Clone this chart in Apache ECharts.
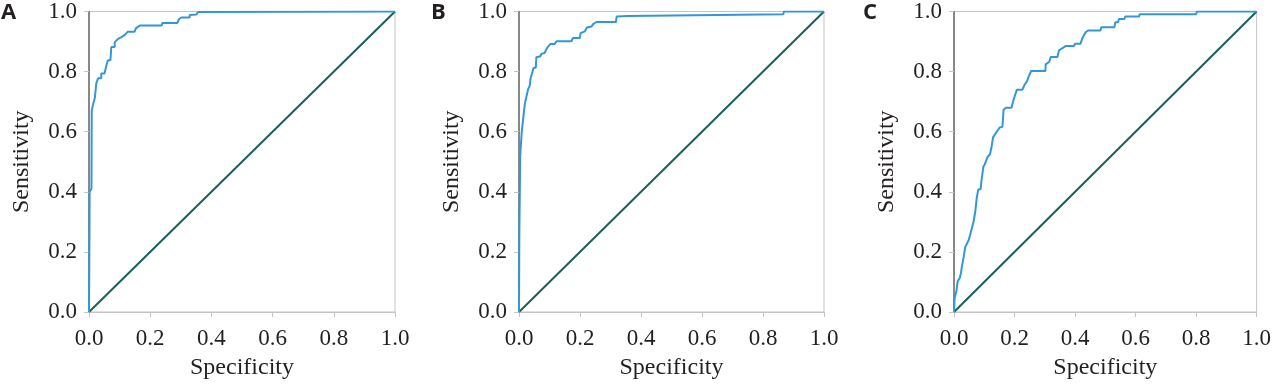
<!DOCTYPE html>
<html>
<head>
<meta charset="utf-8">
<script src="https://cdn.jsdelivr.net/npm/echarts@6/dist/echarts.min.js"></script>
<style>
html,body{margin:0;padding:0;background:#fff;}
#chart{width:1274px;height:385px;}
</style>
</head>
<body>
<div id="chart"></div>
<script>
// Panel labels
const panelLabels = ['A', 'B', 'C'];
// Tick labels (both axes)
const tickLabels = ['0.0', '0.2', '0.4', '0.6', '0.8', '1.0'];
const xName = 'Specificity';
const yName = 'Sensitivity';

// ROC curves [x, sensitivity]
const rocA = [[0,0],[0.001,0.15],[0.002,0.40],[0.008,0.41],[0.009,0.67],[0.013,0.69],[0.019,0.712],[0.024,0.762],[0.030,0.778],[0.040,0.778],[0.040,0.794],[0.051,0.794],[0.057,0.822],[0.062,0.838],[0.070,0.838],[0.073,0.882],[0.084,0.882],[0.084,0.898],[0.095,0.909],[0.106,0.915],[0.117,0.922],[0.127,0.933],[0.149,0.933],[0.153,0.944],[0.166,0.953],[0.237,0.953],[0.240,0.962],[0.289,0.962],[0.294,0.975],[0.302,0.980],[0.329,0.980],[0.329,0.988],[0.351,0.990],[0.356,0.998],[0.36,1],[1,1]];
const rocB = [[0,0],[0.001,0.25],[0.004,0.52],[0.009,0.60],[0.013,0.637],[0.019,0.692],[0.030,0.742],[0.035,0.752],[0.038,0.778],[0.044,0.778],[0.048,0.813],[0.055,0.813],[0.057,0.848],[0.070,0.851],[0.073,0.859],[0.084,0.862],[0.092,0.879],[0.103,0.892],[0.117,0.892],[0.123,0.901],[0.172,0.901],[0.177,0.912],[0.199,0.912],[0.202,0.928],[0.216,0.934],[0.223,0.947],[0.238,0.950],[0.243,0.958],[0.254,0.965],[0.318,0.965],[0.320,0.983],[0.358,0.985],[0.361,0.991],[0.867,0.991],[0.868,1],[1,1]];
const rocC = [[0,0],[0.002,0.047],[0.008,0.069],[0.012,0.102],[0.019,0.113],[0.023,0.129],[0.026,0.151],[0.032,0.184],[0.037,0.216],[0.042,0.222],[0.048,0.238],[0.053,0.255],[0.059,0.260],[0.064,0.298],[0.070,0.331],[0.075,0.379],[0.080,0.407],[0.088,0.409],[0.091,0.439],[0.097,0.483],[0.102,0.492],[0.111,0.516],[0.119,0.525],[0.124,0.549],[0.129,0.581],[0.140,0.598],[0.151,0.614],[0.160,0.616],[0.164,0.674],[0.173,0.680],[0.190,0.680],[0.197,0.707],[0.208,0.740],[0.226,0.740],[0.233,0.756],[0.241,0.767],[0.247,0.784],[0.255,0.802],[0.302,0.802],[0.303,0.824],[0.315,0.833],[0.320,0.849],[0.342,0.849],[0.347,0.871],[0.369,0.885],[0.396,0.885],[0.400,0.893],[0.418,0.893],[0.424,0.911],[0.435,0.931],[0.443,0.937],[0.484,0.937],[0.487,0.948],[0.530,0.948],[0.533,0.964],[0.542,0.964],[0.545,0.975],[0.563,0.975],[0.566,0.983],[0.611,0.983],[0.614,0.991],[0.800,0.991],[0.803,1],[1,1]];
// Reference diagonal
const diagonal = [[0,0],[1,1]];

const curves = [rocA, rocB, rocC];
const grids = [
  {left: 89, top: 9, width: 306, height: 305},
  {left: 519, top: 10, width: 305, height: 303},
  {left: 954, top: 9, width: 306, height: 305}
];
const letterPos = [{left: 1, top: 2}, {left: 431, top: 2}, {left: 863, top: 2}];

const serif = '"Liberation Serif", "Times New Roman", serif';
const textColor = '#231f20';
const lightGray = '#c4c4c4';

const option = {
  animation: false,
  backgroundColor: '#fff',
  title: panelLabels.map((t, i) => ({
    text: t, left: letterPos[i].left, top: letterPos[i].top, padding: 0,
    textStyle: {fontFamily: '"Open Sans", "Liberation Sans", sans-serif', fontWeight: 'bold', fontSize: 22, color: textColor}
  })),
  grid: grids.map(g => Object.assign({show: true, borderColor: lightGray, borderWidth: 1, containLabel: false}, g)),
  xAxis: grids.map((g, i) => ({
    type: 'value', gridIndex: i, min: 0, max: 1, interval: 0.2,
    name: xName, nameLocation: 'middle', nameGap: 44,
    nameTextStyle: {fontFamily: serif, fontSize: 24, color: textColor},
    axisLine: {show: true, lineStyle: {color: lightGray, width: 1}},
    axisTick: {show: true, length: 5, lineStyle: {color: lightGray}},
    axisLabel: {fontFamily: serif, fontSize: 23, color: textColor, margin: 15,
      formatter: v => tickLabels[Math.round(v * 5)]},
    splitLine: {show: false}
  })),
  yAxis: grids.map((g, i) => ({
    type: 'value', gridIndex: i, min: 0, max: 1, interval: 0.2,
    name: yName, nameLocation: 'middle', nameGap: 55,
    nameTextStyle: {fontFamily: serif, fontSize: 24, color: textColor},
    axisLine: {show: true, lineStyle: {color: '#6a6a6a', width: 1.5}},
    axisTick: {show: true, length: 5, lineStyle: {color: lightGray}},
    axisLabel: {fontFamily: serif, fontSize: 23, color: textColor, margin: 12,
      formatter: v => tickLabels[Math.round(v * 5)]},
    splitLine: {show: false}
  })),
  series: [].concat(...curves.map((c, i) => [
    {type: 'line', xAxisIndex: i, yAxisIndex: i, data: diagonal, showSymbol: false, symbol: 'none',
      lineStyle: {color: '#1b5f5a', width: 2}, z: 2},
    {type: 'line', xAxisIndex: i, yAxisIndex: i, data: c, showSymbol: false, symbol: 'none',
      lineStyle: {color: '#3197d8', width: 2}, z: 3}
  ]))
};

const chart = echarts.init(document.getElementById('chart'), null, {renderer: 'canvas'});
chart.setOption(option);
</script>
</body>
</html>
